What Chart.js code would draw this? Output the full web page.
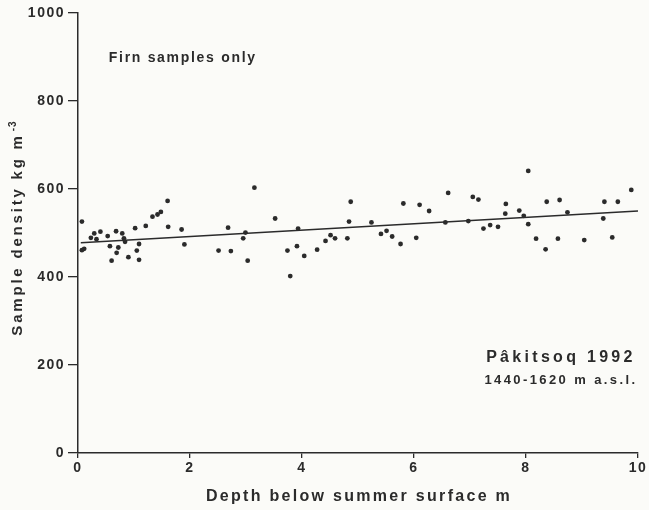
<!DOCTYPE html>
<html><head><meta charset="utf-8">
<script src="https://cdn.jsdelivr.net/npm/chart.js@4/dist/chart.umd.min.js"></script>
<style>
html,body{margin:0;padding:0;background:#fbfbf8;}
#wrap{width:649px;height:510px;position:relative;}
</style></head>
<body><div id="wrap"><canvas id="c" width="649" height="510"></canvas></div>
<script>
const depth = [0.07,0.07,0.11,0.23,0.29,0.33,0.40,0.53,0.57,0.60,0.68,0.72,0.69,0.79,0.82,0.84,0.90,1.02,1.05,1.09,1.09,1.21,1.33,1.42,1.48,1.60,1.61,1.85,1.90,2.51,
2.68,2.73,2.95,2.99,3.03,3.15,3.52,3.74,3.79,3.91,3.93,4.04,4.27,4.42,4.51,4.59,4.81,4.84,4.87,
5.24,5.41,5.51,5.61,5.76,5.81,6.04,6.10,6.27,6.56,6.61,6.97,7.05,7.15,7.24,7.36,7.50,
7.64,7.63,7.88,7.96,8.04,8.04,8.18,8.35,8.37,8.57,8.60,8.74,9.04,9.38,9.40,9.54,9.64,9.88];
const density = [526,461,464,489,499,486,503,493,470,437,504,467,455,499,488,480,445,511,460,475,439,516,537,542,548,573,514,508,474,460,
512,459,488,501,437,603,533,460,402,470,510,448,462,482,495,488,488,526,571,
524,498,505,492,475,567,489,564,550,524,591,527,582,576,510,518,514,
566,544,551,539,641,520,487,463,571,487,575,547,484,533,571,490,571,598];
const fitX = [0.05, 10];
const fitY = [478, 550];
const xTicks = [0,2,4,6,8,10];
const yTicks = [0,200,400,600,800,1000];
const xTitle = 'Depth below summer surface m';
const yTitle = 'Sample density kg m';
const yTitleSup = '-3';
const note1 = 'Firn samples only';
const site = 'Pâkitsoq 1992';
const elev = '1440-1620 m a.s.l.';

const ink = '#2b2b2b';
const FONT = '"Liberation Sans", Arial, sans-serif';

const textPlugin = {
  id:'texts',
  beforeDraw(chart){ chart.ctx.letterSpacing = '1.5px'; },
  afterDraw(chart){
    const ctx = chart.ctx, xs = chart.scales.x, ys = chart.scales.y, ca = chart.chartArea;
    ctx.save();
    ctx.fillStyle = ink;
    ctx.textBaseline = 'middle';
    // x title
    ctx.letterSpacing = '2.3px';
    ctx.font = 'bold 16px ' + FONT;
    ctx.textAlign = 'center';
    ctx.fillText(xTitle, (ca.left+ca.right)/2 + 1, 497);
    // y title with superscript
    ctx.save();
    ctx.translate(18, 228);
    ctx.rotate(-Math.PI/2);
    ctx.letterSpacing = '2.8px';
    ctx.font = 'bold 15px ' + FONT;
    const w1 = ctx.measureText(yTitle).width;
    ctx.font = 'bold 10px ' + FONT;
    ctx.letterSpacing = '1px';
    const w2 = ctx.measureText(yTitleSup).width;
    const start = -(w1 + w2 + 2)/2;
    ctx.textAlign = 'left';
    ctx.letterSpacing = '2.8px';
    ctx.font = 'bold 15px ' + FONT;
    ctx.fillText(yTitle, start, 0);
    ctx.font = 'bold 10px ' + FONT;
    ctx.letterSpacing = '1px';
    ctx.fillText(yTitleSup, start + w1 + 2, -5);
    ctx.restore();
    // annotations
    ctx.letterSpacing = '1.7px';
    ctx.font = 'bold 14px ' + FONT;
    ctx.textAlign = 'left';
    ctx.fillText(note1, xs.getPixelForValue(0.55), ys.getPixelForValue(898));
    ctx.letterSpacing = '3.3px';
    ctx.font = 'bold 16px ' + FONT;
    ctx.textAlign = 'right';
    ctx.fillText(site, xs.getPixelForValue(9.96), ys.getPixelForValue(216));
    ctx.letterSpacing = '2.4px';
    ctx.font = 'bold 13px ' + FONT;
    ctx.fillText(elev, xs.getPixelForValue(9.99), ys.getPixelForValue(166));
    ctx.restore();
    ctx.letterSpacing = '0px';
  }
};

new Chart(document.getElementById('c'), {
  type:'scatter',
  data:{
    datasets:[
      {type:'line', data: fitX.map((x,i)=>({x, y: fitY[i]})), borderColor: ink, borderWidth:1.6, pointRadius:0, fill:false, order:2},
      {data: depth.map((x,i)=>({x, y: density[i]})), backgroundColor: ink, borderColor: ink, pointRadius:2.4, pointBorderWidth:0, order:1}
    ]
  },
  plugins:[textPlugin],
  options:{
    responsive:false, animation:false, devicePixelRatio:1,
    layout:{padding:{left:0, right:11, top:13, bottom:0}},
    plugins:{legend:{display:false}, tooltip:{enabled:false}},
    scales:{
      x:{type:'linear', min:0, max:10,
        afterBuildTicks(s){ s.ticks = xTicks.map(v=>({value:v})); },
        afterFit(s){ s.height = 57; },
        border:{display:true, color:ink, width:1.5},
        grid:{display:true, drawOnChartArea:false, drawTicks:true, tickLength:5, color:ink, lineWidth:1.3},
        ticks:{color:ink, font:{family:FONT, size:14, weight:'bold'}, padding:2, maxRotation:0, callback:v=>String(v)}
      },
      y:{type:'linear', min:0, max:1000,
        afterBuildTicks(s){ s.ticks = yTicks.map(v=>({value:v})); },
        afterFit(s){ s.width = 78; },
        border:{display:true, color:ink, width:1.5},
        grid:{display:true, drawOnChartArea:false, drawTicks:true, tickLength:10, color:ink, lineWidth:1.3},
        ticks:{color:ink, font:{family:FONT, size:14, weight:'bold'}, padding:3, callback:v=>String(v)}
      }
    }
  }
});
</script></body></html>
